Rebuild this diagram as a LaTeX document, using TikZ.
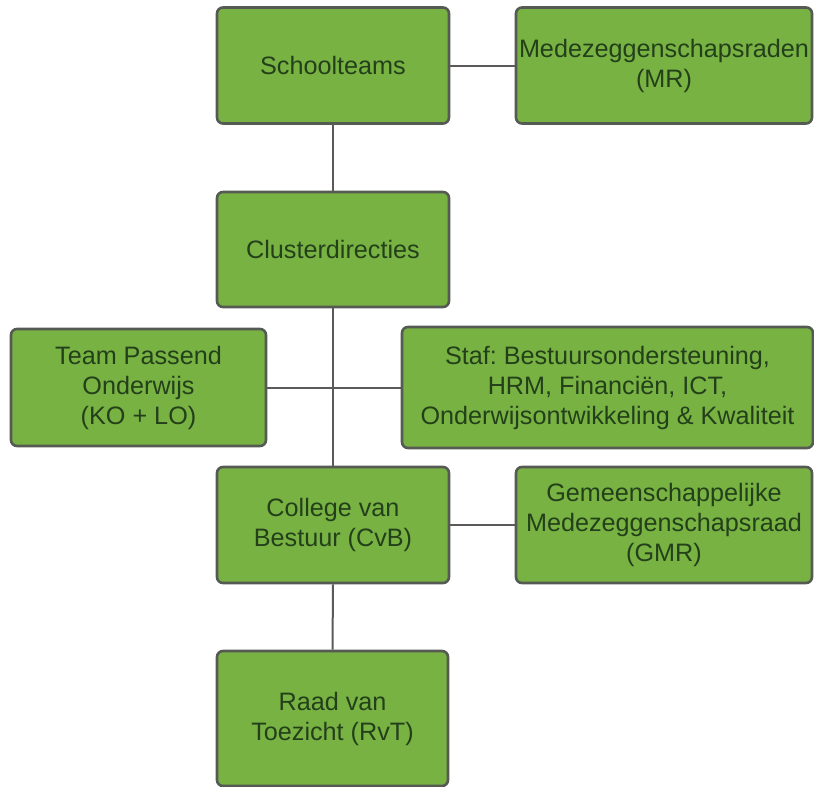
\documentclass[tikz,border=0pt]{standalone}
\usepackage{fontspec}
\setmainfont{Liberation Sans}
\frenchspacing
\definecolor{boxfill}{HTML}{77B243}
\definecolor{boxline}{HTML}{555A52}
\definecolor{boxtext}{HTML}{24401A}
\definecolor{conn}{HTML}{5A5A5A}
\begin{document}
\begin{tikzpicture}[x=1pt,y=-1pt,
  orgbox/.style={draw=boxline, line width=2.6pt, fill=boxfill, rounded corners=6pt,
    text=boxtext, align=center, inner sep=2pt,
    font=\fontsize{25.2}{30}\selectfont},
  link/.style={draw=conn, line width=2pt}]
\useasboundingbox (0,0) rectangle (814,787);
\node[orgbox, minimum width=232pt, minimum height=116pt] (school) at (333,65.5) {Schoolteams};
\node[orgbox, minimum width=296pt, minimum height=116pt] (mr) at (664,65.5) {Medezeggenschapsraden\\(MR)};
\node[orgbox, minimum width=232pt, minimum height=115pt] (cluster) at (333,249.5) {Clusterdirecties};
\node[orgbox, minimum width=255pt, minimum height=117pt] (team) at (138.5,387.5) {Team Passend\\Onderwijs\\(KO + LO)};
\node[orgbox, minimum width=411pt, minimum height=121pt] (staf) at (607.5,387.5) {Staf: Bestuursondersteuning,\\HRM, Financiën, ICT,\\Onderwijsontwikkeling \& Kwaliteit};
\node[orgbox, minimum width=232pt, minimum height=116pt] (college) at (333,525) {College van\\Bestuur (CvB)};
\node[orgbox, minimum width=296pt, minimum height=116pt] (gmr) at (664,525) {Gemeenschappelijke\\Medezeggenschapsraad\\(GMR)};
\node[orgbox, minimum width=231pt, minimum height=135pt] (raad) at (332.5,718.5) {Raad van\\Toezicht (RvT)};
\draw[link] (school.south) -- (cluster.north);
\draw[link] (cluster.south) -- (college.north);
\draw[link] (college.south) -- (raad.north);
\draw[link] (school.east) -- (mr.west);
\draw[link] (team.east) -- (staf.west);
\draw[link] (college.east) -- (gmr.west);
\end{tikzpicture}
\end{document}
